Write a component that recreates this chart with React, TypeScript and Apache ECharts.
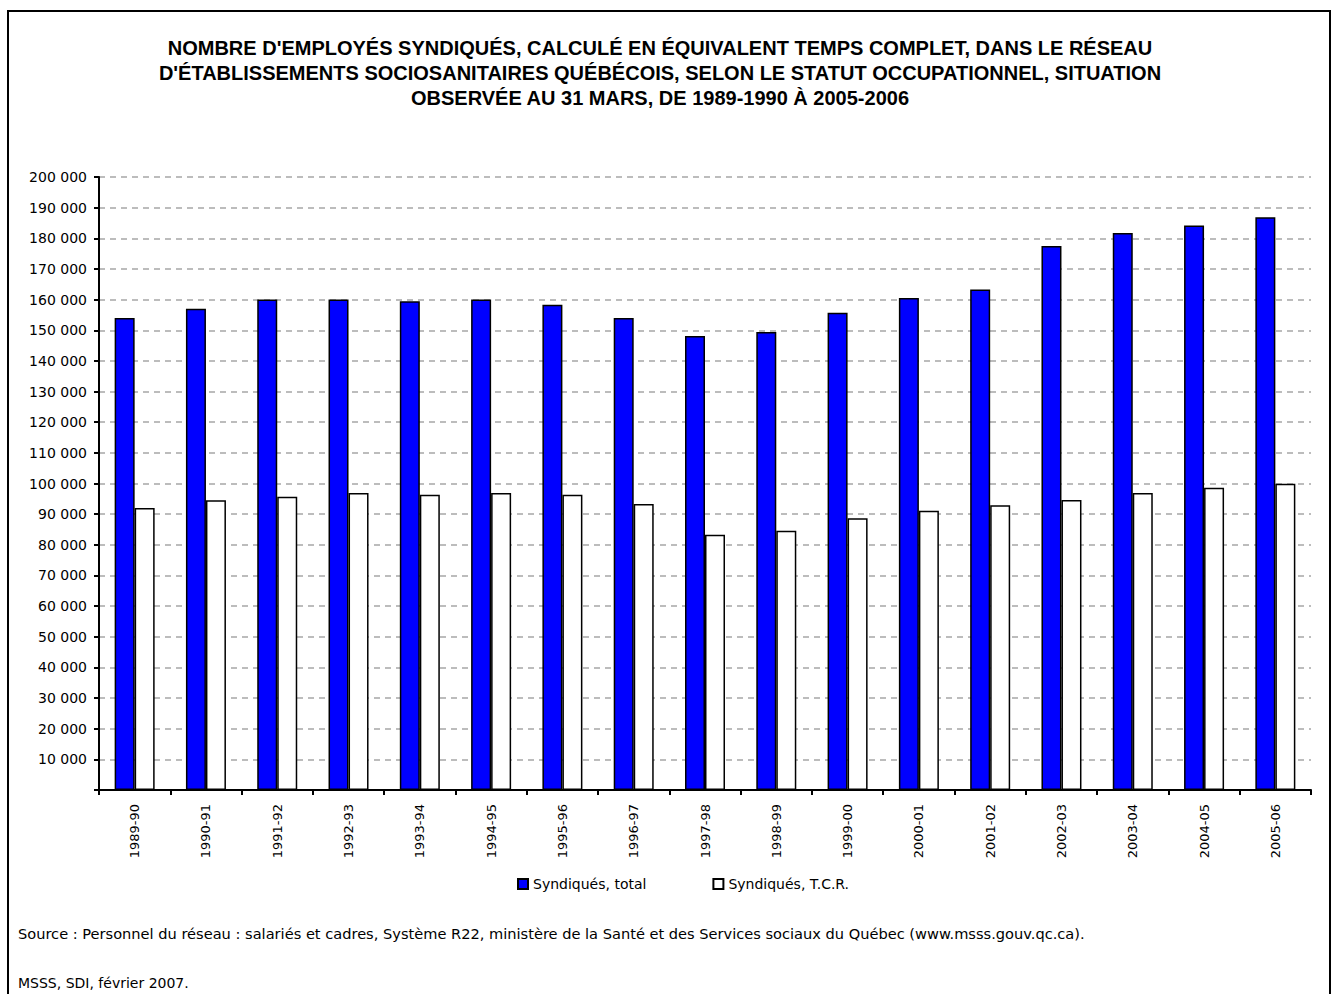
import React, { useEffect, useRef } from "react";
import * as echarts from "echarts";

// Fiscal years (situation au 31 mars)
const categories = [
  "1989-90", "1990-91", "1991-92", "1992-93", "1993-94", "1994-95",
  "1995-96", "1996-97", "1997-98", "1998-99", "1999-00", "2000-01",
  "2001-02", "2002-03", "2003-04", "2004-05", "2005-06",
];

// Syndiqués, total (ETC)
const syndiquesTotal = [
  154000, 157000, 160000, 160000, 159500, 160000, 158300, 154000, 148100,
  149400, 155700, 160500, 163300, 177500, 181700, 184200, 186900,
];

// Syndiqués, T.C.R. (ETC)
const syndiquesTCR = [
  92000, 94500, 95700, 96900, 96300, 96900, 96300, 93300, 83300, 84600,
  88700, 91100, 92900, 94600, 96900, 98600, 99900,
];

const titleText =
  "NOMBRE D'EMPLOYÉS SYNDIQUÉS, CALCULÉ EN ÉQUIVALENT TEMPS COMPLET, DANS LE RÉSEAU\n" +
  "D'ÉTABLISSEMENTS SOCIOSANITAIRES QUÉBÉCOIS, SELON LE STATUT OCCUPATIONNEL, SITUATION\n" +
  "OBSERVÉE AU 31 MARS, DE 1989-1990 À 2005-2006";

const sourceText =
  "Source : Personnel du réseau : salariés et cadres, Système R22, ministère de la Santé et des Services sociaux du Québec (www.msss.gouv.qc.ca).";
const creditText = "MSSS, SDI, février 2007.";

const TITLE_FONT = "Arial, 'Liberation Sans', sans-serif";
const FONT = "'DejaVu Sans', Verdana, sans-serif";

const formatThousands = (v: number) =>
  v === 0 ? "" : String(v).replace(/\B(?=(\d{3})+(?!\d))/g, " ");

export default function App() {
  const ref = useRef<HTMLDivElement>(null);

  useEffect(() => {
    document.body.style.margin = "0";
    if (!ref.current) return;
    const chart = echarts.init(ref.current, undefined, { renderer: "svg" });

    chart.setOption({
      animation: false,
      backgroundColor: "#ffffff",
      textStyle: { fontFamily: FONT, color: "#000" },
      grid: { left: 99, right: 25, top: 177, bottom: 204, containLabel: false },
      legend: {
        left: 512,
        top: 872,
        itemWidth: 10,
        itemHeight: 10,
        itemGap: 66,
        icon: "rect",
        textStyle: { fontFamily: FONT, fontSize: 14, color: "#000" },
        data: ["Syndiqués, total", "Syndiqués, T.C.R."],
      },
      xAxis: {
        type: "category",
        data: categories,
        axisLine: { show: true, lineStyle: { color: "#000", width: 2 } },
        axisTick: { show: true, length: 5, lineStyle: { color: "#000", width: 2 } },
        axisLabel: {
          rotate: 90,
          margin: 14,
          fontFamily: FONT,
          fontSize: 13,
          color: "#000",
          interval: 0,
        },
        splitLine: { show: false },
      },
      yAxis: {
        type: "value",
        min: 0,
        max: 200000,
        interval: 10000,
        axisLine: { show: true, lineStyle: { color: "#000", width: 2 } },
        axisTick: { show: true, length: 5, lineStyle: { color: "#000", width: 2 } },
        axisLabel: {
          margin: 12,
          fontFamily: FONT,
          fontSize: 14,
          color: "#000",
          formatter: formatThousands,
        },
        splitLine: {
          show: true,
          lineStyle: { color: "#a6a6a6", width: 1.5, type: [6, 5] },
        },
      },
      series: [
        {
          name: "Syndiqués, total",
          type: "bar",
          data: syndiquesTotal,
          barWidth: 20,
          barGap: "0%",
          itemStyle: { color: "#0000ff", borderColor: "#000", borderWidth: 1.5 },
        },
        {
          name: "Syndiqués, T.C.R.",
          type: "bar",
          data: syndiquesTCR,
          barWidth: 20,
          barGap: "0%",
          itemStyle: { color: "#ffffff", borderColor: "#000", borderWidth: 1.5 },
        },
      ],
      graphic: [
        {
          type: "rect",
          shape: { x: 8, y: 11, width: 1322, height: 1000 },
          style: { fill: "none", stroke: "#000", lineWidth: 2 },
          silent: true,
        },
        {
          type: "text",
          x: 660,
          y: 35,
          style: {
            text: titleText,
            fontFamily: TITLE_FONT,
            fontSize: 20,
            fontWeight: "bold",
            lineHeight: 25,
            fill: "#000",
            align: "center",
          },
        },
        {
          type: "text",
          x: 18,
          y: 926,
          style: { text: sourceText, fontFamily: FONT, fontSize: 14.6, fill: "#000" },
        },
        {
          type: "text",
          x: 18,
          y: 976,
          style: { text: creditText, fontFamily: FONT, fontSize: 14, fill: "#000" },
        },
      ],
    });

    return () => chart.dispose();
  }, []);

  return <div ref={ref} style={{ width: 1336, height: 994 }} />;
}
